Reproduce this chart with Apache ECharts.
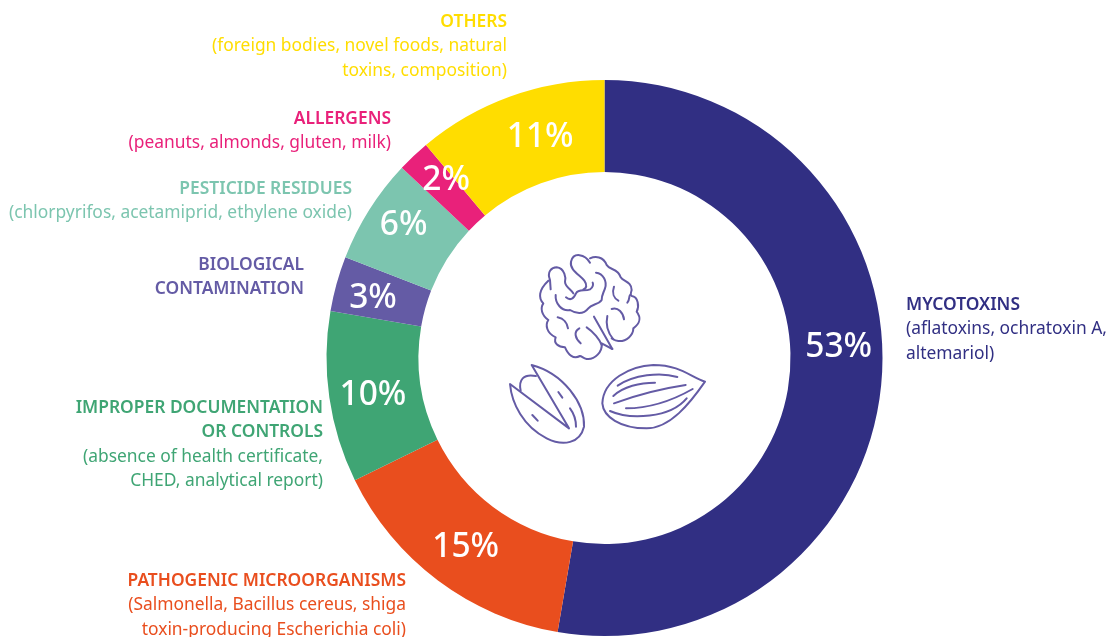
<!DOCTYPE html>
<html><head><meta charset="utf-8">
<style>html,body{margin:0;padding:0;background:#fff}#c{width:1109px;height:637px}</style>
<script src="https://cdn.jsdelivr.net/npm/echarts@6/dist/echarts.min.js"></script>
</head><body><div id="c"></div>
<script>
const categories=['Mycotoxins','Pathogenic microorganisms','Improper documentation or controls','Biological contamination','Pesticide residues','Allergens','Others'];
const shares=[52.7,15.05,9.95,3.2,6.1,1.9,11.1];
const colors=['#312F83','#E94E1E','#3FA574','#645BA5','#7CC5AF','#E9217A','#FFDD00'];
const labelShifts=[[0,-30],[2,1],[1,4],[-5,3],[-2,-7],[3,-7],[16,0]];
const titleLines=[['MYCOTOXINS'],['PATHOGENIC MICROORGANISMS'],['IMPROPER DOCUMENTATION','OR CONTROLS'],['BIOLOGICAL','CONTAMINATION'],['PESTICIDE RESIDUES'],['ALLERGENS'],['OTHERS']];
const noteLines=[['(aflatoxins, ochratoxin A,','altemariol)'],['(Salmonella, Bacillus cereus, shiga','toxin-producing Escherichia coli)'],['(absence of health certificate,','CHED, analytical report)'],[],['(chlorpyrifos, acetamiprid, ethylene oxide)'],['(peanuts, almonds, gluten, milk)'],['(foreign bodies, novel foods, natural','toxins, composition)']];
const anchors=[[906,305,'left'],[406,581,'right'],[323,408,'right'],[304,265,'right'],[352,189,'right'],[391,119,'right'],[507,22,'right']];
const lineGap=24.5;
const FONT='"Noto Sans"';
const iconPaths=[
'M182 148 L180 120 C170 95 185 82 200 82 C225 85 228 115 225 125 C225 140 245 150 250 160',
'M300 68 C285 42 250 35 243 65 C238 90 270 105 283 122 C292 135 290 145 280 148',
'M300 55 C315 48 340 48 350 75 C358 90 385 85 392 112 C400 125 425 125 425 150 C422 160 420 165 425 168 C445 170 448 200 440 215 C455 235 450 250 430 265 C430 285 410 305 385 303 C375 302 370 298 365 295',
'M367 327 L335 310 C338 335 315 360 290 357 C280 355 275 348 270 348 C250 358 235 345 225 322 C205 322 190 310 197 292 C170 280 165 255 175 240 C155 225 150 205 160 190 C145 175 145 150 175 122',
'M318 98 C340 100 352 125 345 145 C340 160 335 165 335 180 C325 195 305 192 295 205 C280 225 255 220 240 210 C215 215 195 190 197 165',
'M228 172 C240 182 250 178 258 160 C265 145 285 155 300 148 C310 142 310 132 308 128',
'M372 140 C365 160 372 175 385 182','M412 188 C420 178 416 170 420 165','M365 207 C385 200 400 220 402 238',
'M203 232 C222 235 232 250 234 265','M268 265 C250 275 255 295 272 310','M290 262 C310 275 330 300 335 315',
'M312 230 L367 327','M352 228 C345 260 355 280 370 298',
'M237 565 L60 432 C65 490 100 560 170 595 C220 620 270 610 282 560 C285 490 220 400 125 375 L237 565',
'M92 452 C85 420 100 400 138 408','M205 456 L217 473','M127 525 L143 542','M240 505 C255 525 258 545 258 560',
'M645 425 C600 410 570 375 490 375 C420 378 340 420 337 490 C340 530 390 565 470 565 C540 565 600 490 645 425 Z',
'M383 437 C430 405 510 395 562 411','M370 468 C400 440 450 428 495 428','M372 490 C440 465 520 445 587 435','M408 505 C480 505 550 480 608 447','M360 513 C420 540 540 535 590 475'
];
const graphic=[];
categories.forEach((_,i)=>{
  let y=anchors[i][1];
  const add=(t,w)=>{graphic.push({type:'text',x:anchors[i][0],y:y,style:{text:t,fill:colors[i],font:w+' 17.4px '+FONT,textAlign:anchors[i][2],textVerticalAlign:'middle'}});y+=lineGap;};
  titleLines[i].forEach(t=>add(t,600));
  noteLines[i].forEach(t=>add(t,400));
});
const chart=echarts.init(document.getElementById('c'),null,{renderer:'canvas'});
chart.setOption({
  animation:false,
  series:[{type:'pie',center:[604.5,358],radius:[186,278],startAngle:90,clockwise:true,silent:true,
    data:categories.map((n,i)=>({name:n,value:shares[i],itemStyle:{color:colors[i]},label:{offset:labelShifts[i]}})),
    label:{show:true,position:'inside',formatter:p=>Math.round(p.value)+'%',color:'#fff',fontFamily:FONT,fontSize:33.5,fontWeight:500},
    labelLine:{show:false}},
   {type:'custom',coordinateSystem:'none',silent:true,data:[0],z:5,
    renderItem:()=>({type:'group',children:iconPaths.map(d=>({type:'path',x:490,y:240,scaleX:1/3,scaleY:1/3,shape:{pathData:d},style:{fill:'none',stroke:'#645BA5',lineWidth:6,lineCap:'round',lineJoin:'round'}}))})}],
  graphic:graphic
});
</script></body></html>
